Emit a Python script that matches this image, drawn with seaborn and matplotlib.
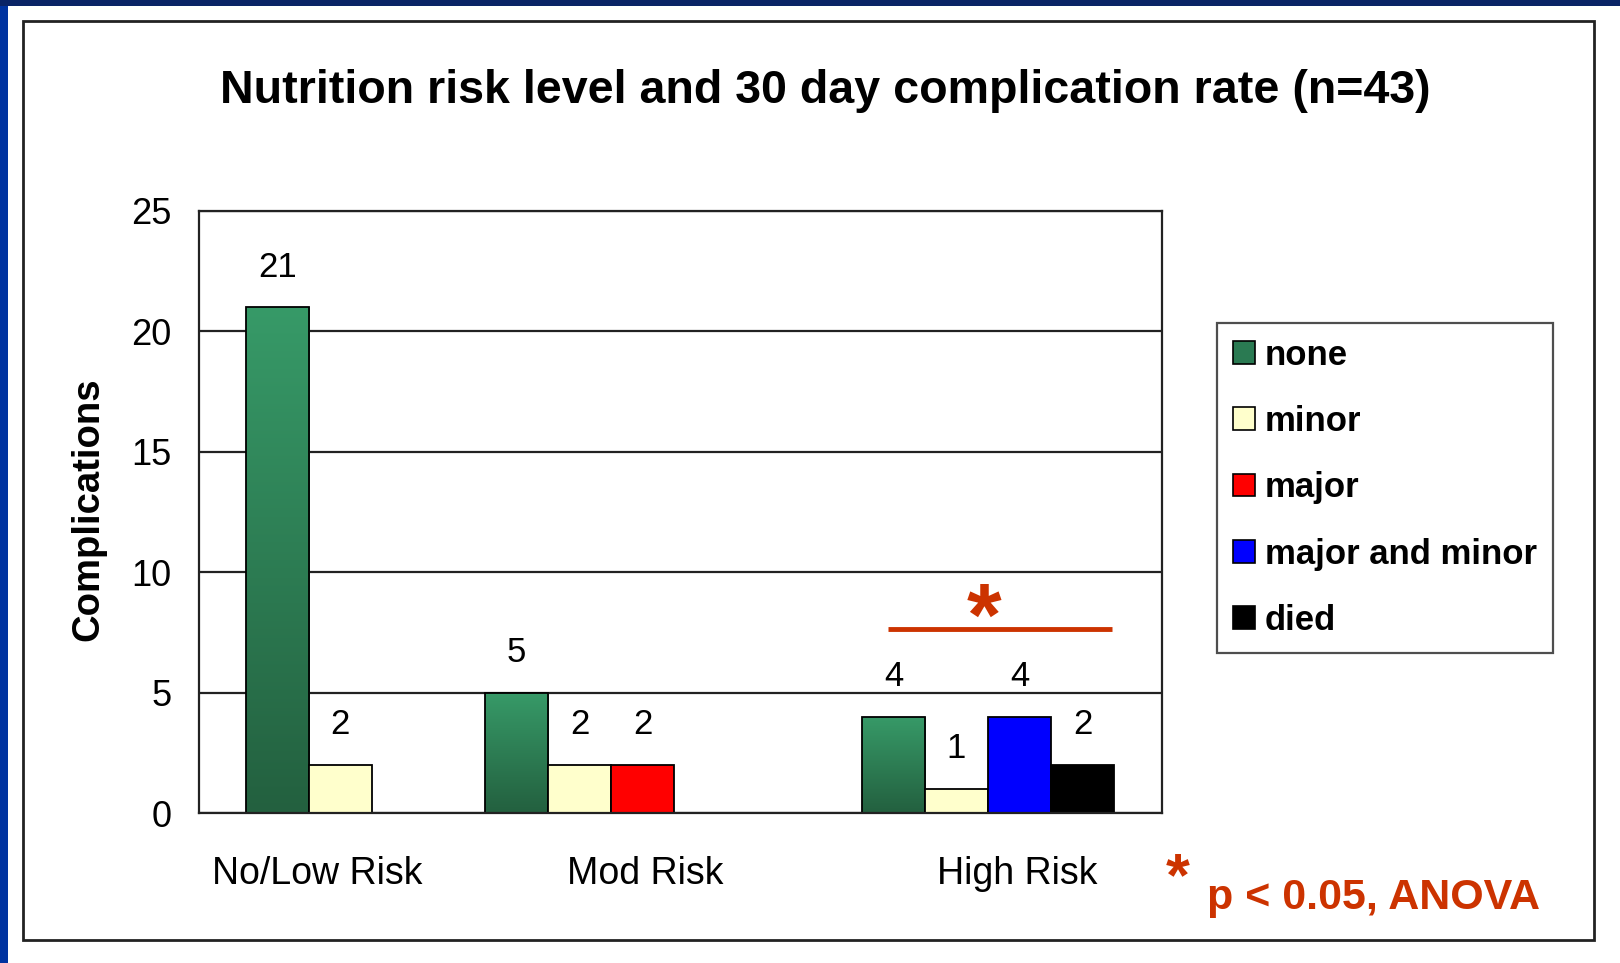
import matplotlib
matplotlib.use("Agg")
import matplotlib.pyplot as plt
import matplotlib.patches as mpatches
from matplotlib.colors import LinearSegmentedColormap, to_hex
import numpy as np
import pandas as pd
import seaborn as sns

# %%
risk_levels = ["No/Low Risk", "Mod Risk", "High Risk"]
severities = ["none", "minor", "major", "major and minor", "died"]

# only the bars that appear in the chart, per risk level
no_low_severity = ["none", "minor"]
no_low_counts = [21, 2]
mod_severity = ["none", "minor", "major"]
mod_counts = [5, 2, 2]
high_severity = ["none", "minor", "major and minor", "died"]
high_counts = [4, 1, 4, 2]

severity_colors = {
    "none": "#2f8a5c",
    "minor": "#ffffcc",
    "major": "#ff0000",
    "major and minor": "#0000ff",
    "died": "#000000",
}

# layout of the old excel chart, in bar widths
group_start = [0.74, 4.54, 10.52]
group_edges = [0, 3.85, 9.84, 15.28]
label_centres = [1.87, 7.08, 12.98]

rows = []
for g, (sev, cnt) in enumerate(
    [(no_low_severity, no_low_counts), (mod_severity, mod_counts), (high_severity, high_counts)]
):
    for i, (s, c) in enumerate(zip(sev, cnt)):
        rows.append({"risk": risk_levels[g], "severity": s, "count": c, "pos": group_start[g] + i + 0.5})
df = pd.DataFrame(rows)

# %%
sns.set_style("white")
plt.rcParams["font.family"] = ["Liberation Sans", "DejaVu Sans"]
plt.rcParams["text.color"] = "black"
plt.rcParams["xtick.color"] = "black"
plt.rcParams["ytick.color"] = "black"

fig = plt.figure(figsize=(16.2, 9.63), dpi=100)
fig.patch.set_facecolor("#0033a0")
fig.add_artist(mpatches.Rectangle((0, 1 - 6 / 963), 1, 6 / 963, transform=fig.transFigure,
                                  facecolor="#0a2466", edgecolor="none", zorder=0))
fig.add_artist(mpatches.Rectangle((8 / 1620, 0), 1, 1 - 6 / 963, transform=fig.transFigure,
                                  facecolor="white", edgecolor="none", zorder=0))
fig.add_artist(mpatches.Rectangle((23 / 1620, 1 - 940 / 963), (1594 - 23) / 1620, (940 - 21) / 963,
                                  transform=fig.transFigure, fill=False, edgecolor="#222222",
                                  linewidth=2, zorder=1))

ax = fig.add_axes([199 / 1620, 1 - 813 / 963, (1162 - 199) / 1620, (813 - 211) / 963])
ax.set_facecolor("white")

sns.barplot(
    data=df,
    x="pos",
    y="count",
    hue="severity",
    hue_order=severities,
    palette=severity_colors,
    saturation=1,
    native_scale=True,
    dodge=False,
    width=1.0,
    errorbar=None,
    edgecolor="black",
    linewidth=1.3,
    legend=False,
    ax=ax,
)

# green bars get a top-light / bottom-dark gradient
green_cmap = LinearSegmentedColormap.from_list("g", ["#23603f", "#379a68"])
grad = np.linspace(0, 1, 256).reshape(-1, 1)
for p in list(ax.patches):
    if p.get_height() > 0 and to_hex(p.get_facecolor()) == severity_colors["none"]:
        x0, y0 = p.get_x(), p.get_y()
        im = ax.imshow(grad, extent=[x0, x0 + p.get_width(), y0, y0 + p.get_height()],
                       origin="lower", cmap=green_cmap, aspect="auto", zorder=1.5)
        im.set_clip_path(p)
        p.set_facecolor("none")
    p.set_zorder(2)

for c in ax.containers:
    ax.bar_label(c, padding=17, fontsize=25)

ax.set_xlim(group_edges[0], group_edges[-1])
ax.set_ylim(0, 25)
ax.set_yticks([0, 5, 10, 15, 20, 25])
ax.set_xticks(group_edges)
ax.set_xticklabels([])
ax.set_xticks(label_centres, risk_levels, minor=True)
ax.tick_params(axis="x", which="major", direction="out", length=9, width=1.3, color="black")
ax.tick_params(axis="x", which="minor", length=0, pad=31, labelsize=27)
ax.tick_params(axis="y", direction="out", length=9, width=1.3, color="black", pad=11, labelsize=26)
ax.set_xlabel("")
ax.set_ylabel("")
ax.grid(axis="y", color="#222222", linewidth=1.6)
ax.set_axisbelow(True)
for s in ax.spines.values():
    s.set_color("#222222")
    s.set_linewidth(1.6)

# significance bar over the high risk group
ax.plot([10.93, 14.48], [7.63, 7.63], color="#cc3300", linewidth=3.5, solid_capstyle="butt", zorder=3)
ax.text(12.46, 7.0, "*", color="#cc3300", fontsize=64, fontweight="bold", ha="center", va="baseline")

handles = [mpatches.Patch(facecolor=severity_colors[s], edgecolor="black", linewidth=1.2) for s in severities]
handles[0] = mpatches.Patch(facecolor="#2a7a52", edgecolor="black", linewidth=1.2)
leg = fig.legend(
    handles, severities,
    loc="upper left",
    bbox_to_anchor=(1217 / 1620, 1 - 323 / 963),
    prop={"weight": "bold", "size": 25},
    frameon=True,
    fancybox=False,
    edgecolor="#222222",
    handlelength=0.63,
    handleheight=0.63,
    handletextpad=0.3,
    labelspacing=0.96,
    borderpad=0.45,
    borderaxespad=0,
)
leg.get_frame().set_linewidth(1.6)

fig.text(825 / 1620, 1 - 91 / 963, "Nutrition risk level and 30 day complication rate (n=43)",
         ha="center", va="center", fontsize=33.6, fontweight="bold")
fig.text(88 / 1620, 1 - 509 / 963, "Complications", rotation=90, ha="center", va="center",
         fontsize=27.5, fontweight="bold")
fig.text(1178 / 1620, 1 - 895 / 963, "*", color="#cc3300", fontsize=44, fontweight="bold",
         ha="center", va="baseline")
fig.text(1207 / 1620, 1 - 909 / 963, "p < 0.05, ANOVA", color="#cc3300", fontsize=31,
         fontweight="bold", ha="left", va="baseline")

plt.savefig("out.png", dpi=100, facecolor=fig.get_facecolor())
